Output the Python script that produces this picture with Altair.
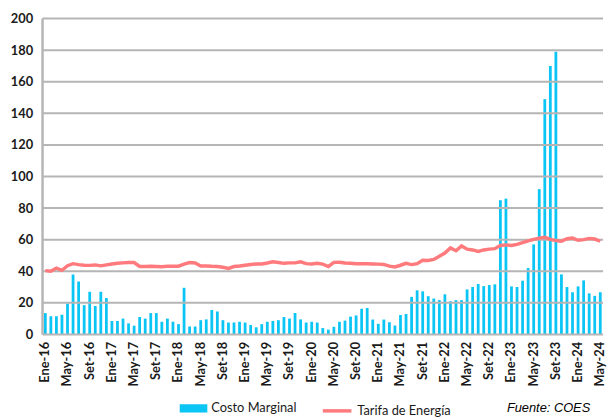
import altair as alt
import pandas as pd

meses = ["Ene", "Feb", "Mar", "Abr", "May", "Jun", "Jul", "Ago", "Set", "Oct", "Nov", "Dic"]
anios = ["16", "17", "18", "19", "20", "21", "22", "23", "24"]
categorias = [f"{m}-{a}" for a in anios for m in meses][:101]

costo_marginal = [
    13.5, 11.5, 11.5, 12.5, 19.5, 38, 33.5, 18.5, 27, 18, 27, 23,
    8.5, 8.5, 10, 7, 5.5, 11, 10, 13.5, 13.5, 8, 10, 8,
    6.5, 29.5, 5, 5, 9, 9.5, 15.5, 14.5, 9, 7.5, 7.5, 8,
    7.5, 6, 4.5, 6.5, 8, 8.5, 9, 11, 10, 13.5, 9.5, 7.5,
    8, 7.5, 4, 3, 4.8, 8, 8.75, 11.25, 12, 16.25, 16.7, 9.4,
    6.7, 9.4, 7.7, 5.6, 12.3, 12.9, 23.75, 27.9, 27.3, 24.2, 22.7, 21.7,
    25.4, 21, 21.7, 21.7, 28.5, 30, 31.9, 30.6, 31.25, 31.7, 85, 86,
    30.4, 30, 34, 42, 57, 92, 149, 170, 179, 38, 30, 26.7,
    30.4, 34.2, 26, 24.4, 26.7,
]

tarifa = [
    40.4, 40, 42, 40.6, 43.5, 44.8, 44.2, 43.8, 43.7, 44, 43.4, 44,
    44.6, 45, 45.3, 45.5, 45.5, 43, 43, 43.1, 43, 42.9, 43.1, 43.1,
    43.2, 44.5, 45.5, 45.2, 43.3, 43.3, 43.1, 43, 42.5, 41.8, 43, 43.3,
    43.8, 44.3, 44.6, 44.6, 45.2, 46, 45.5, 45, 45.3, 45.3, 46, 44.8,
    44.6, 45, 44.5, 43, 45.6, 45.7, 45.2, 45, 44.8, 44.8, 44.7, 44.6,
    44.5, 44.3, 43.2, 42.7, 43.8, 45, 44.2, 44.8, 47, 46.8, 47.5, 49.5,
    51.5, 54.8, 53, 56, 54, 53.5, 52.5, 53.5, 54, 54.3, 56.3, 56.7,
    56.3, 57, 58.1, 59.2, 60.2, 61, 61.5, 60.2, 59.4, 59, 60.6, 61,
    59.6, 60, 60.8, 60.4, 59,
]

etiquetas_x = [
    "Ene-16", "May-16", "Set-16", "Ene-17", "May-17", "Set-17", "Ene-18", "May-18",
    "Set-18", "Ene-19", "May-19", "Set-19", "Ene-20", "May-20", "Set-20", "Ene-21",
    "May-21", "Set-21", "Ene-22", "May-22", "Set-22", "Ene-23", "May-23", "Set-23",
    "Ene-24", "May-24",
]
ticks_y = list(range(0, 201, 20))

serie_barras = "Costo Marginal"
serie_linea = "Tarifa de Energía"
fuente = "Fuente: COES"

df = pd.DataFrame({
    "mes": categorias,
    "cm": costo_marginal,
    "tarifa": tarifa,
    "s1": serie_barras,
    "s2": serie_linea,
})
df_grid = pd.DataFrame({"v": ticks_y})

AZUL = "#0bc5f5"
ROJO = "#ff7a7d"
GRIS = "#b5b5b5"
TXT = "#1a1a1a"
W, H = 568, 320

x_scale = alt.Scale(paddingInner=0.5, paddingOuter=0.25)
y_scale = alt.Scale(domain=[0, 200], nice=False)
x_axis = alt.Axis(values=etiquetas_x, title=None)
y_axis = alt.Axis(values=ticks_y, title=None)

grid = alt.Chart(df_grid).mark_rule(color=GRIS, strokeWidth=2, opacity=1).encode(
    x=alt.value(0),
    x2=alt.value(W),
    y=alt.Y("v:Q", scale=y_scale, axis=y_axis),
)

eje_y = alt.Chart(df_grid).mark_rule(color=GRIS, strokeWidth=2.5).encode(
    x=alt.value(0),
    y=alt.Y("min(v):Q", scale=y_scale, axis=y_axis),
    y2="max(v):Q",
)

bars = alt.Chart(df).mark_bar().encode(
    x=alt.X("mes:N", sort=categorias, scale=x_scale, axis=x_axis),
    y=alt.Y("cm:Q", scale=y_scale, axis=y_axis),
    color=alt.Color(
        "s1:N",
        scale=alt.Scale(domain=[serie_barras], range=[AZUL]),
        legend=alt.Legend(
            orient="none", legendX=139, legendY=381, title=None,
            symbolType="M-1,-0.3H1V0.3H-1Z", symbolSize=784,
            symbolStrokeWidth=0, symbolOpacity=1,
            labelFont="Lato", labelFontSize=13, labelColor=TXT,
            labelOffset=4, padding=0,
        ),
    ),
)

line = alt.Chart(df).mark_line(strokeWidth=3.5).encode(
    x=alt.X("mes:N", sort=categorias, scale=x_scale, axis=x_axis),
    y=alt.Y("tarifa:Q", scale=y_scale, axis=y_axis),
    stroke=alt.Stroke(
        "s2:N",
        scale=alt.Scale(domain=[serie_linea], range=[ROJO]),
        legend=alt.Legend(
            orient="none", legendX=282, legendY=381, title=None,
            symbolType="stroke", symbolSize=841, symbolStrokeWidth=3.5,
            labelFont="Lato", labelFontSize=13, labelColor=TXT,
            labelOffset=4, padding=0,
        ),
    ),
)

nota = alt.Chart(pd.DataFrame({"t": [fuente]})).mark_text(
    font="Liberation Sans", fontStyle="italic", fontSize=13,
    align="right", baseline="middle", color="black",
).encode(text="t:N", x=alt.value(555), y=alt.value(395))

chart = (
    alt.layer(bars, grid, eje_y, line, nota)
    .properties(
        width=W,
        height=H,
        autosize=alt.AutoSizeParams(type="none"),
        padding={"left": 35, "top": 8, "right": 4, "bottom": 84},
    )
    .configure_view(stroke=None)
    .configure_axis(
        ticks=False, domain=False, grid=False,
        labelFont="Lato", labelFontWeight="bold", labelFontSize=13,
        labelColor=TXT, labelOverlap=False,
    )
    .configure_axisY(labelPadding=10)
    .configure_axisX(labelAngle=270, labelPadding=7)
)

chart.save("out.html", embed_options={"renderer": "svg", "actions": False})
